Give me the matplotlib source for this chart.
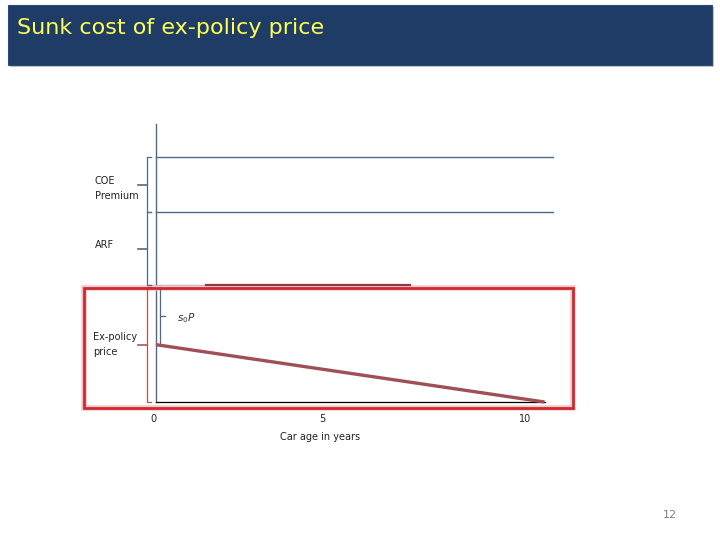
import matplotlib
matplotlib.use("Agg")
import matplotlib.pyplot as plt
from matplotlib.patches import Rectangle

# ---- data ----
car_age = [0, 10.5]            # years
ex_policy_price = [49, 0]      # depreciating ex-policy price
P = 100                        # full price level
arf_top = 162                  # P + ARF
coe_top = 209                  # P + ARF + COE premium
tick_values = [0, 5, 10]
tick_labels = ["0", "5", "10"]
title = "Sunk cost of ex-policy price"
xlabel = "Car age in years"
page_number = "12"

# ---- figure ----
W, H = 720, 540
fig = plt.figure(figsize=(W / 100, H / 100), dpi=100)
fig.patch.set_facecolor("white")
ax = fig.add_axes([0, 0, 1, 1])
ax.set_axis_off()

# scale: x=0 at px 156, 37 px / year ; y=0 at px 402 (from top), 1.17 px / unit
px_per_x, x0_px = 37.0, 156.0
px_per_y, y0_px = 1.17, 402.0
ax.set_xlim(-x0_px / px_per_x, (W - x0_px) / px_per_x)
ax.set_ylim((y0_px - H) / px_per_y, y0_px / px_per_y)

blue = "#4F6A88"
brown = "#A35A5A"
dark_red = "#8E3B48"
box_red = "#CC2A30"

def fx(px):
    return (px - x0_px) / px_per_x

def fy(py):
    return (y0_px - py) / px_per_y

# title bar
fig.add_artist(Rectangle((10 / W, 1 - 67 / H), 704 / W, 60 / H,
                         transform=fig.transFigure, facecolor="#9AA3AE",
                         edgecolor="none", alpha=0.6, zorder=0))
fig.add_artist(Rectangle((8 / W, 1 - 65 / H), 704 / W, 60 / H,
                         transform=fig.transFigure, facecolor="#1F3C66",
                         edgecolor="#2A4A78", linewidth=0.8, zorder=1))
fig.text(17 / W, 1 - 28 / H, title, color="#FFFF55", fontsize=16,
         family="DejaVu Sans", va="center", ha="left", zorder=2)

# axes lines
ax.plot([0, 0], [0, fy(124)], color=blue, lw=1.0)
ax.plot([0, car_age[-1]], [0, 0], color="black", lw=0.9)

# level lines
ax.plot([0, fx(553)], [coe_top, coe_top], color=blue, lw=1.0)
ax.plot([0, fx(553)], [arf_top, arf_top], color=blue, lw=1.0)
ax.plot([fx(147), fx(206)], [P, P], color="#7A6E88", lw=0.9)
ax.plot([fx(206), fx(410)], [P, P], color=dark_red, lw=1.6, zorder=4)

# red highlight box
ax.add_patch(Rectangle((fx(84), fy(408)), fx(573) - fx(84), fy(288) - fy(408),
                       facecolor="none", edgecolor="#F5C9C9", lw=4, zorder=2))
ax.add_patch(Rectangle((fx(84), fy(408)), fx(573) - fx(84), fy(288) - fy(408),
                       facecolor="none", edgecolor=box_red, lw=2, zorder=3))

# ex-policy price line
ax.plot(car_age, ex_policy_price, color="#A04F55", lw=2.4, zorder=5,
        solid_capstyle="butt")


def brace(xpx, top, bottom, color, tip_px=9, hook_px=4):
    x = fx(xpx)
    mid = (top + bottom) / 2
    xh = fx(xpx + hook_px)
    xt = fx(xpx - tip_px)
    ax.plot([xh, x, x, xh], [top, top, bottom, bottom], color=color, lw=0.9)
    ax.plot([x, xt], [mid, mid], color=color, lw=1.2)


brace(147, coe_top, arf_top, blue)
brace(147, arf_top, P, blue)
brace(147, P - 2, 0, brown)

# s0 P bracket
xs = fx(160.5)
ax.plot([xs, xs], [P - 2, ex_policy_price[0]], color=blue, lw=0.9)
ax.plot([xs, fx(165)], [fy(316), fy(316)], color=blue, lw=0.9)
ax.text(fx(177), fy(318), r"$s_0P$", fontsize=7.5, color="#333333",
        ha="left", va="center")

# labels
lab = dict(fontsize=7, color="#222222", ha="left", va="center",
           family="DejaVu Sans")
ax.text(fx(95), fy(181), "COE", **lab)
ax.text(fx(95), fy(196), "Premium", **lab)
ax.text(fx(95), fy(245), "ARF", **lab)
ax.text(fx(93), fy(337), "Ex-policy", **lab)
ax.text(fx(93), fy(352), "price", **lab)

tick_px = [153, 322, 525]
for v, lbl, tp in zip(tick_values, tick_labels, tick_px):
    ax.text(fx(tp), fy(419), lbl, fontsize=7, color="#222222",
            ha="center", va="center")
ax.text(fx(320), fy(437), xlabel, fontsize=7, color="#222222",
        ha="center", va="center")

fig.text(670 / W, 1 - 515 / H, page_number, fontsize=8, color="#808080",
         ha="center", va="center")

fig.savefig("out.png", dpi=100)
